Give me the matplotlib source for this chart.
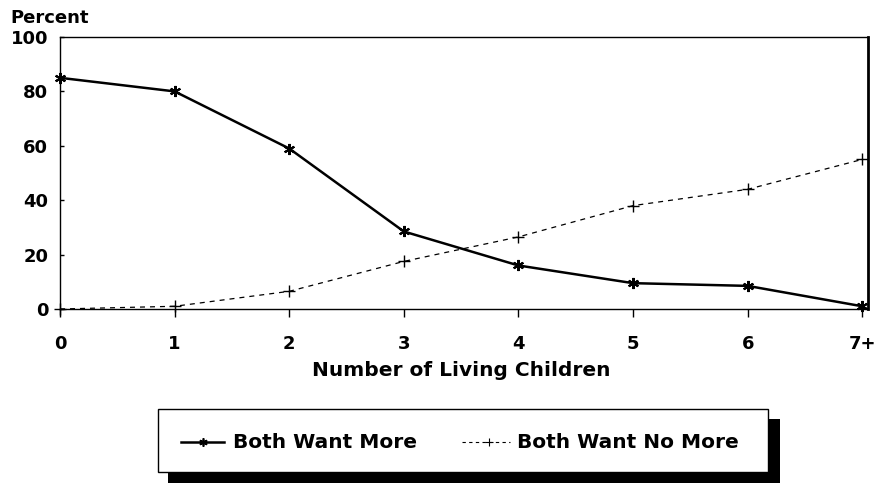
import matplotlib
matplotlib.use("Agg")
import matplotlib.pyplot as plt
from matplotlib.patches import Rectangle
from matplotlib.lines import Line2D

plt.rcParams['font.family'] = ['DejaVu Sans']
plt.rcParams['font.weight'] = 'bold'

categories = ["0", "1", "2", "3", "4", "5", "6", "7+"]
want_more = [85, 80, 59, 28.5, 16, 9.5, 8.5, 1]
want_no_more = [0, 1, 6.5, 17.5, 26.5, 38, 44, 55]
series_names = ["Both Want More", "Both Want No More"]
y_ticks = [0, 20, 40, 60, 80, 100]

W, H = 881, 483
fig = plt.figure(figsize=(W / 100, H / 100), dpi=100)
ax = fig.add_axes([60 / W, 1 - 309 / H, (868 - 60) / W, (309 - 37) / H])

x = list(range(len(categories)))
ax.plot(x, want_more, color='black', lw=1.8, marker=(6, 2, 0), ms=8, mew=1.5,
        clip_on=False, label=series_names[0])
ax.plot(x, want_no_more, color='black', lw=0.9, ls=(0, (4, 4)), marker='+', ms=8,
        mew=1.0, clip_on=False, label=series_names[1])

ax.set_xlim(0, 7.05)
ax.set_ylim(0, 100)
ax.set_xticks(x)
ax.set_xticklabels(categories, fontsize=13, fontweight='bold')
ax.set_yticks(y_ticks)
ax.set_yticklabels([str(v) for v in y_ticks], fontsize=13, fontweight='bold')
ax.tick_params(axis='x', direction='out', length=6, width=1, pad=13)
ax.tick_params(axis='y', direction='in', length=3, width=1, pad=8.5)
for s in ['left', 'bottom', 'top']:
    ax.spines[s].set_linewidth(1.0)
ax.spines['right'].set_linewidth(2.0)

fig.text(461 / W, 1 - 371 / H, "Number of Living Children", fontsize=14.5,
         fontweight='bold', va='center', ha='center')
fig.text(10 / W, 1 - 18 / H, "Percent", fontsize=13, fontweight='bold', va='center', ha='left')

# legend (drawn manually): shadow, frame, handles, labels
tf = fig.transFigure
fig.patches.append(Rectangle((168 / W, 1 - 483 / H), (780 - 168) / W, (483 - 419) / H,
                             transform=tf, facecolor='black', edgecolor='none', zorder=0))
fig.patches.append(Rectangle((158 / W, 1 - 472 / H), (768 - 158) / W, (472 - 409) / H,
                             transform=tf, facecolor='white', edgecolor='black', lw=1.0, zorder=1))
ly = 1 - 442 / H
fig.lines.append(Line2D([181 / W, 224 / W], [ly, ly], transform=tf, color='black', lw=1.8, zorder=2))
fig.lines.append(Line2D([203 / W], [ly], transform=tf, color='black', marker=(6, 2, 0),
                        ms=6, mew=1.2, zorder=2))
fig.lines.append(Line2D([462 / W, 510 / W], [ly, ly], transform=tf, color='black', lw=0.8,
                        ls=(0, (3, 3)), zorder=2))
fig.lines.append(Line2D([489 / W], [ly], transform=tf, color='black', marker='+',
                        ms=6, mew=0.8, zorder=2))
fig.text(233 / W, ly, series_names[0], fontsize=14.5, fontweight='bold', va='center', ha='left', zorder=3)
fig.text(517 / W, ly, series_names[1], fontsize=14.5, fontweight='bold', va='center', ha='left', zorder=3)

fig.savefig("out.png", dpi=100)
